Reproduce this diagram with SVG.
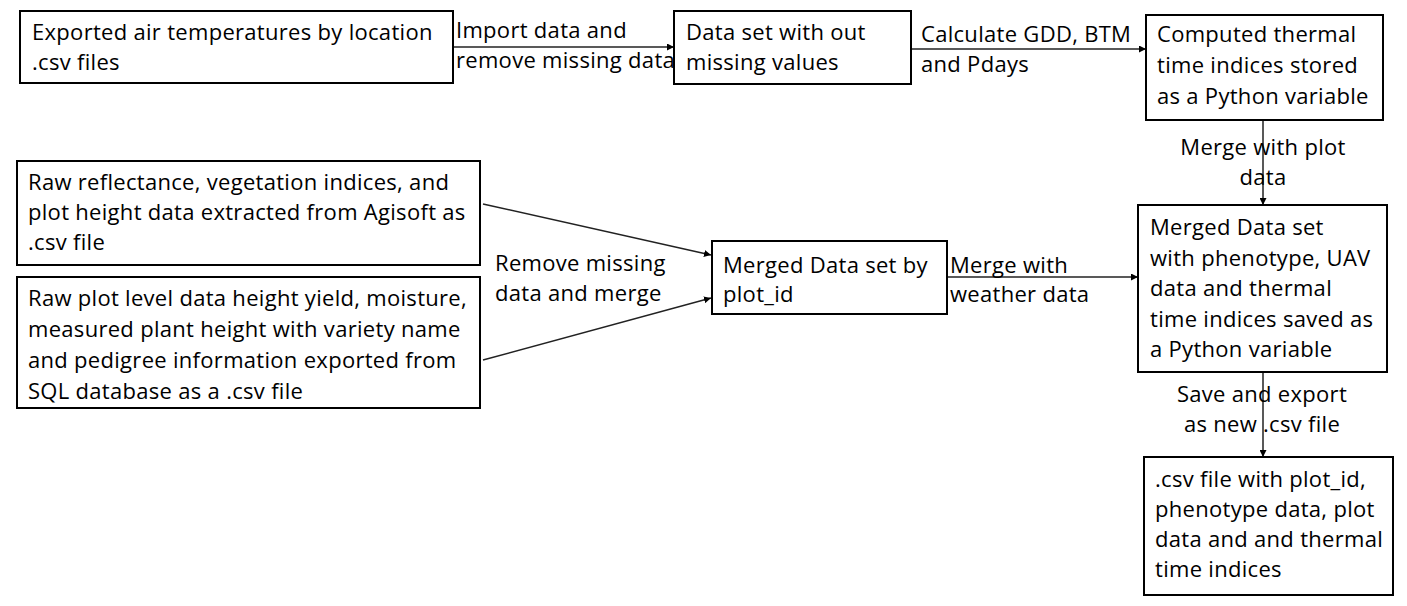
<svg xmlns="http://www.w3.org/2000/svg" width="1407" height="606" viewBox="0 0 1407 606">
<style>
  .box { fill: #ffffff; stroke: #000000; stroke-width: 2; }
  .t { font-family: "Open Sans", "Liberation Sans", sans-serif; font-size: 22px; letter-spacing: 0.3px; fill: #000000; }
  .c { text-anchor: middle; }
  .edge { stroke: #222222; stroke-width: 1.5; fill: none; marker-end: url(#arr); }
</style>
<defs>
  <marker id="arr" viewBox="0 0 10 10" refX="10" refY="5" markerWidth="7" markerHeight="7" markerUnits="userSpaceOnUse" orient="auto">
    <path d="M0,0 L10,5 L0,10 z" fill="#000000"/>
  </marker>
</defs>
<rect width="1407" height="606" fill="#ffffff"/>
<g id="connectors">
  <line class="edge" x1="453" y1="47" x2="674" y2="47"/>
  <line class="edge" x1="911" y1="49" x2="1146" y2="49"/>
  <line class="edge" x1="1263" y1="120" x2="1263" y2="205"/>
  <line class="edge" x1="483" y1="204" x2="711" y2="255"/>
  <line class="edge" x1="483" y1="360" x2="711" y2="298"/>
  <line class="edge" x1="947" y1="277" x2="1138" y2="277"/>
  <line class="edge" x1="1263" y1="372" x2="1263" y2="457"/>
  <text class="t" x="456" y="38">Import data and</text>
  <text class="t" x="456" y="68">remove missing data</text>
  <text class="t" x="921" y="42">Calculate GDD, BTM</text>
  <text class="t" x="921" y="72">and Pdays</text>
  <text class="t c" x="1263" y="155">Merge with plot</text>
  <text class="t c" x="1263" y="185">data</text>
  <text class="t" x="495" y="271">Remove missing</text>
  <text class="t" x="495" y="301">data and merge</text>
  <text class="t" x="950" y="273">Merge with</text>
  <text class="t" x="950" y="302">weather data</text>
  <text class="t c" x="1262" y="402">Save and export</text>
  <text class="t c" x="1262" y="432">as new .csv file</text>
</g>
<g id="n1">
  <rect class="box" x="20" y="11" width="433" height="72"/>
  <text class="t" x="32" y="40">Exported air temperatures by location</text>
  <text class="t" x="32" y="70">.csv files</text>
</g>
<g id="n2">
  <rect class="box" x="674" y="11" width="237" height="73"/>
  <text class="t" x="686" y="40">Data set with out</text>
  <text class="t" x="686" y="70">missing values</text>
</g>
<g id="n3">
  <rect class="box" x="1146" y="15" width="237" height="105"/>
  <text class="t" x="1157" y="42">Computed thermal</text>
  <text class="t" x="1157" y="73">time indices stored</text>
  <text class="t" x="1157" y="104">as a Python variable</text>
</g>
<g id="n4">
  <rect class="box" x="17" y="161" width="463" height="104"/>
  <text class="t" x="28" y="190">Raw reflectance, vegetation indices, and</text>
  <text class="t" x="28" y="220">plot height data extracted from Agisoft as</text>
  <text class="t" x="28" y="250">.csv file</text>
</g>
<g id="n5">
  <rect class="box" x="17" y="277" width="463" height="131"/>
  <text class="t" x="28" y="306">Raw plot level data height yield, moisture,</text>
  <text class="t" x="28" y="337">measured plant height with variety name</text>
  <text class="t" x="28" y="368">and pedigree information exported from</text>
  <text class="t" x="28" y="399">SQL database as a .csv file</text>
</g>
<g id="n6">
  <rect class="box" x="712" y="241" width="235" height="73"/>
  <text class="t" x="723" y="273">Merged Data set by</text>
  <text class="t" x="723" y="302">plot_id</text>
</g>
<g id="n7">
  <rect class="box" x="1138" y="205" width="249" height="167"/>
  <text class="t" x="1150" y="235">Merged Data set</text>
  <text class="t" x="1150" y="266">with phenotype, UAV</text>
  <text class="t" x="1150" y="296">data and thermal</text>
  <text class="t" x="1150" y="327">time indices saved as</text>
  <text class="t" x="1150" y="357">a Python variable</text>
</g>
<g id="n8">
  <rect class="box" x="1144" y="457" width="249" height="138"/>
  <text class="t" x="1155" y="487">.csv file with plot_id,</text>
  <text class="t" x="1155" y="517">phenotype data, plot</text>
  <text class="t" x="1155" y="547">data and and thermal</text>
  <text class="t" x="1155" y="577">time indices</text>
</g>
</svg>
